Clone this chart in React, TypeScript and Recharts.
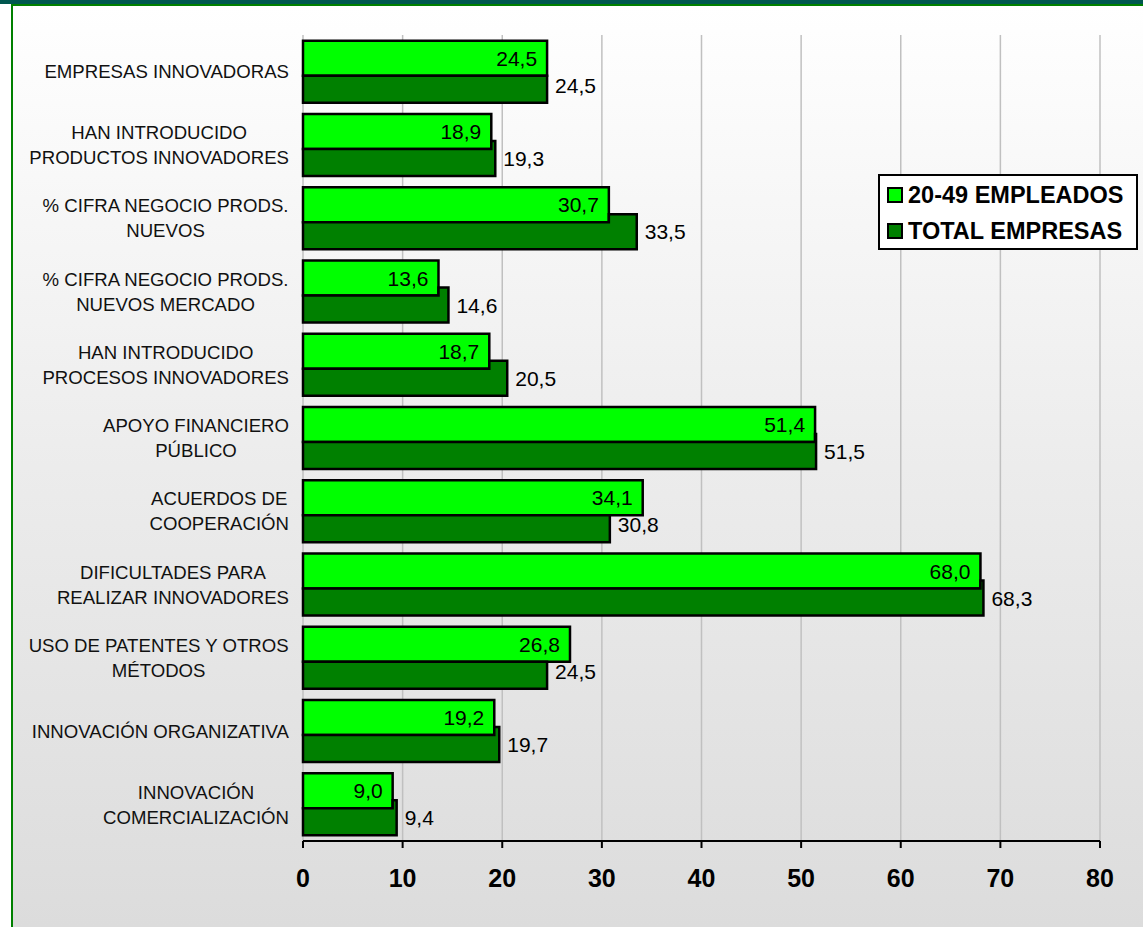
import React from 'react';
import { BarChart, Bar, XAxis, YAxis, CartesianGrid, Legend, LabelList, ReferenceLine } from 'recharts';

const categories = [
  'EMPRESAS INNOVADORAS',
  'HAN INTRODUCIDO\nPRODUCTOS INNOVADORES',
  '% CIFRA NEGOCIO PRODS.\nNUEVOS',
  '% CIFRA NEGOCIO PRODS.\nNUEVOS MERCADO',
  'HAN INTRODUCIDO\nPROCESOS INNOVADORES',
  'APOYO FINANCIERO\nPÚBLICO',
  'ACUERDOS DE\nCOOPERACIÓN',
  'DIFICULTADES PARA\nREALIZAR INNOVADORES',
  'USO DE PATENTES Y OTROS\nMÉTODOS',
  'INNOVACIÓN ORGANIZATIVA',
  'INNOVACIÓN\nCOMERCIALIZACIÓN',
];
const empleados2049 = [24.5, 18.9, 30.7, 13.6, 18.7, 51.4, 34.1, 68.0, 26.8, 19.2, 9.0];
const totalEmpresas = [24.5, 19.3, 33.5, 14.6, 20.5, 51.5, 30.8, 68.3, 24.5, 19.7, 9.4];
const xTicks = [0, 10, 20, 30, 40, 50, 60, 70, 80];
const seriesNames = ['20-49 EMPLEADOS', 'TOTAL EMPRESAS'];
const boundaryTicks = categories.map((_, i) => i).concat([categories.length]);

const data = categories.map((name, i) => ({
  name,
  light: empleados2049[i],
  dark: totalEmpresas[i],
}));

const FONT = "'Liberation Sans', Arial, sans-serif";
const LIGHT = '#00FF00';
const DARK = '#008000';
const OVERLAP = 8;
const LINE_H = 25;
const CAT_FONT = 18.6;
const VAL_FONT = 21;

const fmt = (v: number) => Number(v).toFixed(1).replace('.', ',');

let ctx: CanvasRenderingContext2D | null = null;
function measure(text: string): number {
  if (!ctx) {
    const c = document.createElement('canvas');
    ctx = c.getContext('2d');
  }
  if (!ctx) return text.length * CAT_FONT * 0.65;
  ctx.font = `${CAT_FONT}px 'Liberation Sans', Arial, sans-serif`;
  return ctx.measureText(text).width;
}

function CategoryTick(props: any) {
  const { x, y, payload } = props;
  const lines: string[] = String(payload.value).split('\n');
  const maxW = Math.max(...lines.map(measure));
  const cx = x - maxW / 2;
  const n = lines.length;
  return (
    <g>
      {lines.map((l, i) => (
        <text
          key={i}
          x={cx}
          y={y + (i - (n - 1) / 2) * LINE_H}
          dy="0.36em"
          textAnchor="middle"
          fontFamily={FONT}
          fontSize={CAT_FONT}
          fill="#111"
        >
          {l}
        </text>
      ))}
    </g>
  );
}

function DarkShape(props: any) {
  const { x, y, width, height, payload } = props;
  if (width == null || height == null) return null;
  const lightW = payload.dark ? (width * payload.light) / payload.dark : 0;
  let d: string;
  if (lightW < width) {
    d = `M${x},${y + OVERLAP} L${x + lightW},${y + OVERLAP} L${x + lightW},${y} L${x + width},${y} L${x + width},${y + height} L${x},${y + height} Z`;
  } else {
    d = `M${x},${y + OVERLAP} L${x + width},${y + OVERLAP} L${x + width},${y + height} L${x},${y + height} Z`;
  }
  return <path d={d} fill={DARK} stroke="#000" strokeWidth={2.5} />;
}

function getBox(p: any) {
  const vb = p.viewBox && p.viewBox.width != null ? p.viewBox : p;
  return { x: vb.x, y: vb.y, width: vb.width, height: vb.height };
}

function LightLabel(p: any) {
  const { x, y, width, height } = getBox(p);
  return (
    <text x={x + width - 10} y={y + height / 2} dy="0.36em" textAnchor="end" fontFamily={FONT} fontSize={VAL_FONT} fill="#000">
      {fmt(p.value)}
    </text>
  );
}

function DarkLabel(p: any) {
  const { x, y, width, height } = getBox(p);
  return (
    <text x={x + width + 8} y={y + height / 2} dy="0.36em" textAnchor="start" fontFamily={FONT} fontSize={VAL_FONT} fill="#000">
      {fmt(p.value)}
    </text>
  );
}

function LegendBox(props: any) {
  const payload = props.payload || [];
  return (
    <div
      style={{
        width: 260,
        height: 76,
        boxSizing: 'border-box',
        border: '2px solid #000',
        background: '#fff',
        paddingTop: 1,
      }}
    >
      {payload.map((e: any, i: number) => (
        <div key={i} style={{ height: 36, display: 'flex', alignItems: 'center', paddingLeft: 7 }}>
          <div style={{ width: 16, height: 16, flex: 'none', boxSizing: 'border-box', border: '2px solid #000', background: e.color, marginRight: 5 }} />
          <span style={{ fontFamily: FONT, fontWeight: 'bold', fontSize: 23.5, color: '#000', whiteSpace: 'nowrap' }}>{e.value}</span>
        </div>
      ))}
    </div>
  );
}

export default function App() {
  return (
    <div style={{ position: 'absolute', left: 0, top: 0, width: 1143, height: 927, background: '#fff' }}>
      <div style={{ position: 'absolute', left: 0, top: 0, width: 1143, height: 4, background: '#00574f' }} />
      <div
        style={{
          position: 'absolute',
          left: 11,
          top: 4,
          width: 1143 - 11,
          height: 927 - 4,
          boxSizing: 'border-box',
          borderLeft: '2px solid #008000',
          borderTop: '2px solid #008000',
          background: 'linear-gradient(to bottom, #ffffff 0%, #ececec 50%, #dcdcdc 100%)',
        }}
      />
      <div style={{ position: 'absolute', left: 0, top: 0 }}>
        <BarChart
          width={1143}
          height={927}
          data={data}
          layout="vertical"
          margin={{ top: 35, right: 43, bottom: 36, left: 0 }}
          barCategoryGap="7.7%"
          barGap={-OVERLAP}
        >
          <CartesianGrid yAxisId="cat" horizontal={false} stroke="#c0c0c0" strokeWidth={1.5} />
          <XAxis
            type="number"
            domain={[0, 80]}
            ticks={xTicks}
            interval={0}
            height={50}
            axisLine={{ stroke: '#000', strokeWidth: 2 }}
            tickLine={{ stroke: '#000', strokeWidth: 2 }}
            tickSize={7}
            tickMargin={21}
            tick={{ fontFamily: FONT, fontSize: 25, fontWeight: 'bold', fill: '#000' }}
          />
          <YAxis
            yAxisId="b"
            type="number"
            domain={[0, categories.length]}
            ticks={boundaryTicks}
            interval={0}
            reversed
            allowDataOverflow
            width={0}
            tick={false}
            tickSize={6}
            axisLine={{ stroke: '#000', strokeWidth: 2 }}
            tickLine={{ stroke: '#000', strokeWidth: 2 }}
          />
          <YAxis
            yAxisId="cat"
            type="category"
            dataKey="name"
            width={303}
            axisLine={false}
            tickLine={false}
            tickSize={0}
            tickMargin={14}
            interval={0}
            tick={<CategoryTick />}
          />
          <ReferenceLine yAxisId="b" y={0} stroke="#c0c0c0" strokeWidth={2} />
          <Legend
            layout="vertical"
            verticalAlign="middle"
            align="center"
            content={<LegendBox />}
            wrapperStyle={{ position: 'absolute', left: 878, top: 174, width: 260, height: 76, margin: 0 }}
          />
          <Bar
            yAxisId="cat"
            dataKey="light"
            name={seriesNames[0]}
            fill={LIGHT}
            stroke="#000"
            strokeWidth={2.5}
            isAnimationActive={false}
          >
            <LabelList dataKey="light" content={<LightLabel />} />
          </Bar>
          <Bar
            yAxisId="cat"
            dataKey="dark"
            name={seriesNames[1]}
            fill={DARK}
            stroke="#000"
            strokeWidth={2.5}
            shape={<DarkShape />}
            isAnimationActive={false}
          >
            <LabelList dataKey="dark" content={<DarkLabel />} />
          </Bar>
        </BarChart>
      </div>
    </div>
  );
}
